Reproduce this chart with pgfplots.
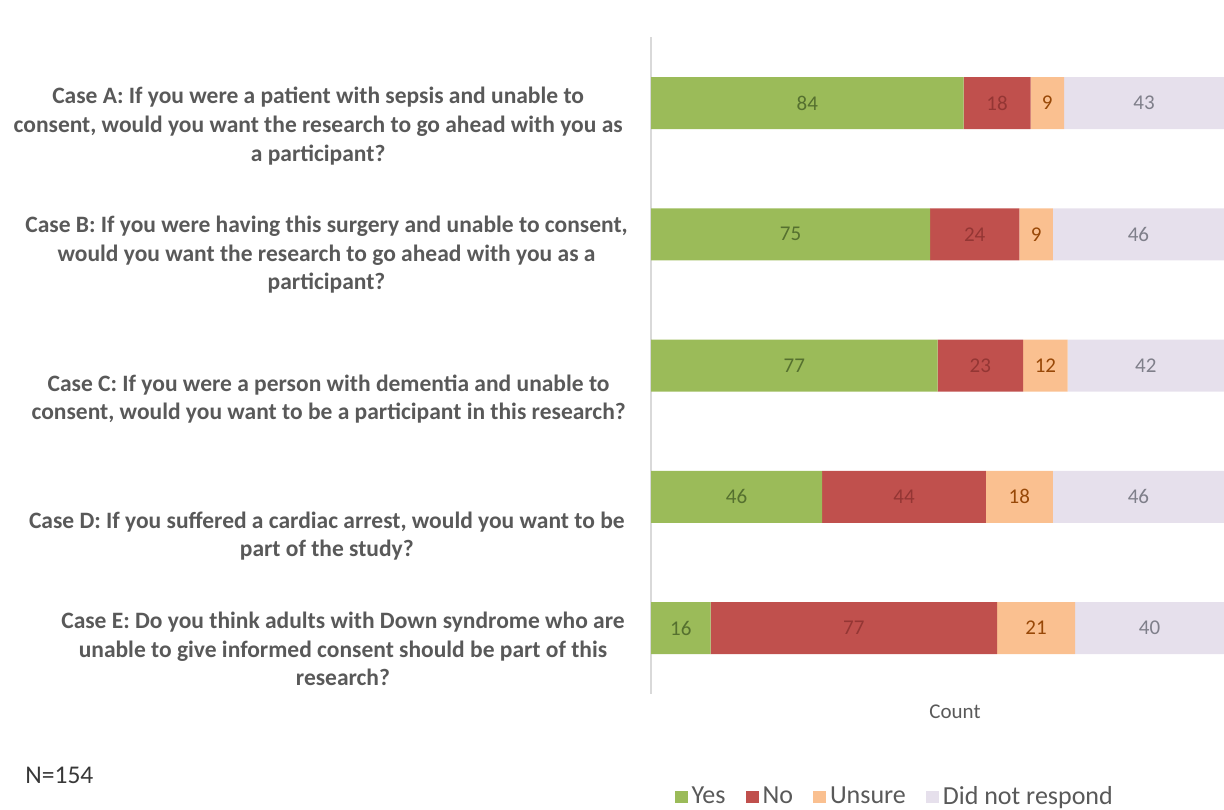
\documentclass[border=0pt]{standalone}
\usepackage{pgfplots}
\pgfplotsset{compat=1.18}
\usepackage{pgfplotstable}
\usepackage{fontspec}
\setmainfont{Carlito}
\definecolor{cyes}{HTML}{9BBB59}
\definecolor{cno}{HTML}{C0504D}
\definecolor{cuns}{HTML}{FAC090}
\definecolor{cdnr}{HTML}{E6E0EC}
\definecolor{tyes}{HTML}{55702F}
\definecolor{tno}{HTML}{943634}
\definecolor{tuns}{HTML}{984807}
\definecolor{tdnr}{HTML}{7F7F8A}
\definecolor{labgrey}{HTML}{595959}
\definecolor{axgrey}{HTML}{D9D9D9}
\pgfplotstableread{
idx yes no unsure dnr
0 84 18 9 43
1 75 24 9 46
2 77 23 12 42
3 46 44 18 46
4 16 77 21 40
}\datatable
\begin{document}
\begin{tikzpicture}
\useasboundingbox (0,0) rectangle (612pt,404.5pt);
\begin{axis}[
  at={(325.5pt,385.8pt)}, anchor=north west,
  x=1.8604pt, y=65.625pt, y dir=reverse,
  xmin=0, xmax=154, ymin=-0.5, ymax=4.5,
  xbar stacked, bar width=26pt,
  axis x line=none, axis y line*=left,
  y axis line style={draw=axgrey, line width=0.7pt},
  ytick=\empty, xtick=\empty,
  nodes near coords, point meta=explicit,
  /pgf/number format/assume math mode=true,
  every node near coord/.append style={font=\fontsize{10.5}{12}\selectfont, anchor=center},
  legend style={at={(axis description cs:0.03,-0.1575)}, anchor=west, draw=none,
    legend columns=-1, font=\fontsize{13}{15}\selectfont, text=labgrey,
    /tikz/every even column/.append style={column sep=8pt}},
  legend image code/.code={\fill[#1] (0pt,-3pt) rectangle (6.5pt,3pt);},
]
\addplot[fill=cyes, draw=none,
  every node near coord/.append style={text=tyes}]
  table[x=yes, y=idx, meta=yes] {\datatable};
\addplot[fill=cno, draw=none,
  every node near coord/.append style={text=tno}]
  table[x=no, y=idx, meta=no] {\datatable};
\addplot[fill=cuns, draw=none,
  every node near coord/.append style={text=tuns}]
  table[x=unsure, y=idx, meta=unsure] {\datatable};
\addplot[fill=cdnr, draw=none,
  every node near coord/.append style={text=tdnr}]
  table[x=dnr, y=idx, meta=dnr] {\datatable};
\legend{Yes, No, Unsure, Did not respond}
\end{axis}
\begin{scope}[every node/.style={anchor=east, align=center, text=labgrey,
    font=\bfseries\fontsize{11.75}{14.3}\selectfont, inner sep=0pt}]
\node at (311.5pt,341.5pt) {Case A: If you were a patient with sepsis and unable to\\consent, would you want the research to go ahead with you as\\a participant?};
\node at (314pt,277pt) {Case B: If you were having this surgery and unable to consent,\\would you want the research to go ahead with you as a\\participant?};
\node at (313pt,205pt) {Case C: If you were a person with dementia and unable to\\consent, would you want to be a participant in this research?};
\node at (312.5pt,136.5pt) {Case D: If you suffered a cardiac arrest, would you want to be\\part of the study?};
\node at (312.5pt,80pt) {Case E: Do you think adults with Down syndrome who are\\unable to give informed consent should be part of this\\research?};
\end{scope}
\node[font=\fontsize{10.5}{12}\selectfont, text=labgrey] at (477.5pt,48.5pt) {Count};
\node[anchor=west, inner sep=0pt, font=\fontsize{12.75}{14}\selectfont, text=black!78] at (12.5pt,17pt) {N=154};
\end{tikzpicture}
\end{document}
